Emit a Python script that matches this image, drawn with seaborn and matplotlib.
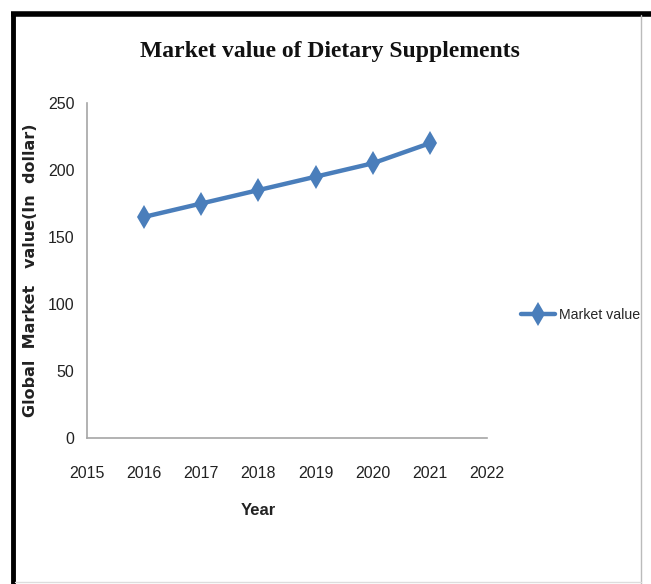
import matplotlib
matplotlib.use("Agg")
import matplotlib.pyplot as plt
from matplotlib.lines import Line2D
import seaborn as sns
import pandas as pd

years = [2016, 2017, 2018, 2019, 2020, 2021]
market_value = [165, 175, 185, 195, 205, 220]
x_ticks = [2015, 2016, 2017, 2018, 2019, 2020, 2021, 2022]
y_ticks = [0, 50, 100, 150, 200, 250]

df = pd.DataFrame({'Year': years, 'Market value': market_value})

sns.set_style('white')
plt.rcParams['font.family'] = ['Liberation Sans', 'DejaVu Sans']

fig = plt.figure(figsize=(6.51, 5.84), dpi=100)
ax = fig.add_axes([87 / 651, 1 - 438 / 584, 400 / 651, 335 / 584])

blue = '#4a7ebb'
sns.lineplot(data=df, x='Year', y='Market value', ax=ax, color=blue,
             linewidth=3.2, marker='d', markersize=12, markeredgewidth=0,
             label='Market value')

ax.set_xlim(2015, 2022)
ax.set_ylim(0, 250)
ax.set_xticks(x_ticks)
ax.set_yticks(y_ticks)
ax.tick_params(axis='both', length=0, labelsize=11.5, colors='#222222')
ax.tick_params(axis='x', pad=20)
ax.tick_params(axis='y', pad=9)
for s in ['top', 'right']:
    ax.spines[s].set_visible(False)
for s in ['left', 'bottom']:
    ax.spines[s].set_color('#a6a6a6')
    ax.spines[s].set_linewidth(1.2)

ax.set_xlabel('Year', fontsize=12, fontweight='bold', color='#222222')
ax.xaxis.set_label_coords((258 - 87) / 400, (438 - 503) / 335)
ax.set_ylabel('Global  Market   value(In  dollar)', fontsize=11.5, fontweight='bold',
              family='DejaVu Sans', color='#222222')
ax.yaxis.set_label_coords((38 - 87) / 400, (438 - 270) / 335)

ax.legend(loc='center left', bbox_to_anchor=((521 - 87) / 400, (438 - 315) / 335),
          frameon=False, fontsize=10.2, handlelength=2.4, handletextpad=0.3,
          borderaxespad=0, borderpad=0)

fig.text(330 / 651, 1 - 51 / 584, 'Market value of Dietary Supplements',
         ha='center', va='center', fontsize=17, fontweight='bold',
         family='Liberation Serif', color='#111111')

# frame around the chart area
fig.add_artist(Line2D([11 / 651, 651 / 651], [1 - 13.5 / 584] * 2, color='black', lw=4,
                      solid_capstyle='butt', transform=fig.transFigure))
fig.add_artist(Line2D([13 / 651] * 2, [0, 1 - 11.5 / 584], color='black', lw=3.5,
                      solid_capstyle='butt', transform=fig.transFigure))
fig.add_artist(Line2D([641 / 651] * 2, [0, 1 - 15 / 584], color='#bbbbbb', lw=1,
                      transform=fig.transFigure))
fig.add_artist(Line2D([15 / 651, 641 / 651], [1 - 582 / 584] * 2, color='#dddddd', lw=1,
                      transform=fig.transFigure))

fig.savefig('out.png', dpi=100)
